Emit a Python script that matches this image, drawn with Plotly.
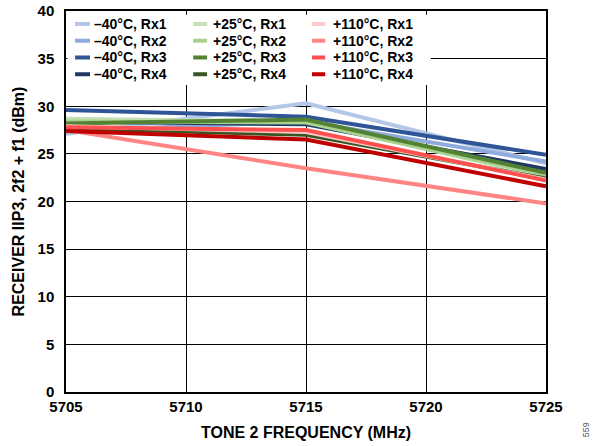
import plotly.graph_objects as go

# ---- data ----
freq = [5705, 5715, 5725]
tick_vals_x = [5705, 5710, 5715, 5720, 5725]
tick_vals_y = [0, 5, 10, 15, 20, 25, 30, 35, 40]

m40_rx1 = [27.1, 30.3, 24.0]
m40_rx2 = [27.4, 28.4, 24.2]
m40_rx3 = [29.6, 28.9, 24.9]
m40_rx4 = [28.4, 28.1, 23.4]

p25_rx1 = [28.7, 28.4, 22.6]
p25_rx2 = [28.4, 28.3, 22.8]
p25_rx3 = [28.2, 28.6, 23.0]
p25_rx4 = [27.7, 27.0, 22.4]

p110_rx1 = [27.9, 27.3, 22.3]
p110_rx2 = [27.5, 23.5, 19.8]
p110_rx3 = [27.8, 27.5, 22.2]
p110_rx4 = [27.4, 26.5, 21.6]

groups = ["m40", "p25", "p110"]
names = {
    "m40": ["–40°C, Rx1", "–40°C, Rx2", "–40°C, Rx3", "–40°C, Rx4"],
    "p25": ["+25°C, Rx1", "+25°C, Rx2", "+25°C, Rx3", "+25°C, Rx4"],
    "p110": ["+110°C, Rx1", "+110°C, Rx2", "+110°C, Rx3", "+110°C, Rx4"],
}
series = {
    "m40": [m40_rx1, m40_rx2, m40_rx3, m40_rx4],
    "p25": [p25_rx1, p25_rx2, p25_rx3, p25_rx4],
    "p110": [p110_rx1, p110_rx2, p110_rx3, p110_rx4],
}
colors = {
    "m40": ["#b4c7e7", "#8faadc", "#2f5597", "#1f3864"],
    "p25": ["#c5e0b4", "#a9d18e", "#548235", "#375623"],
    "p110": ["#ffc9c9", "#ff8585", "#ff5050", "#c00000"],
}

FONT = "Arial, 'Liberation Sans', sans-serif"

# ---- compact legend layout (paper coordinates) ----
leg_rows_y = [0.966, 0.922, 0.878, 0.834]
leg_swatch_x = [(0.019, 0.050), (0.265, 0.294), (0.5125, 0.540)]
leg_text_x = [0.056, 0.304, 0.554]

fig = go.Figure()
for t in groups:
    for r in range(4):
        fig.add_trace(go.Scatter(
            x=freq, y=series[t][r], mode="lines", name=names[t][r],
            line=dict(color=colors[t][r], width=4), showlegend=False,
        ))

shapes = [dict(type="rect", xref="paper", yref="paper", x0=0.003, x1=0.760,
               y0=0.806, y1=0.990, fillcolor="white", line=dict(width=0),
               layer="above")]
annotations = []
for c, t in enumerate(groups):
    for r in range(4):
        shapes.append(dict(type="line", xref="paper", yref="paper",
                           x0=leg_swatch_x[c][0], x1=leg_swatch_x[c][1],
                           y0=leg_rows_y[r], y1=leg_rows_y[r],
                           line=dict(color=colors[t][r], width=4), layer="above"))
        annotations.append(dict(text=names[t][r], xref="paper", yref="paper",
                                x=leg_text_x[c], y=leg_rows_y[r], xanchor="left",
                                yanchor="middle", showarrow=False, borderpad=0,
                                font=dict(size=14, weight="bold", color="black")))
annotations.append(dict(
    text="559", xref="paper", yref="paper", x=1.098, y=-0.125,
    showarrow=False, textangle=-90,
    font=dict(size=9, color="#555555", weight="normal"),
))

fig.update_layout(
    width=593, height=446,
    margin=dict(l=66, r=47, t=11, b=54),
    paper_bgcolor="white", plot_bgcolor="white",
    font=dict(family=FONT, size=15, color="black", weight="bold"),
    showlegend=False,
    xaxis=dict(
        range=[5705, 5725], tickvals=tick_vals_x,
        showgrid=True, gridcolor="black", gridwidth=1,
        showline=True, linecolor="black", linewidth=1.5, mirror=True,
        ticks="", zeroline=False, automargin=False,
        title=dict(text="TONE 2 FREQUENCY (MHz)", standoff=13,
                   font=dict(size=16, weight="bold")),
        tickfont=dict(size=15, weight="bold"),
    ),
    yaxis=dict(
        range=[0, 40], tickvals=tick_vals_y,
        showgrid=True, gridcolor="black", gridwidth=1,
        showline=True, linecolor="black", linewidth=1.5, mirror=True,
        ticks="", zeroline=False, ticklabelstandoff=7, automargin=False,
        title=dict(text="RECEIVER IIP3, 2f2 + f1 (dBm)", standoff=9,
                   font=dict(size=16, weight="bold")),
        tickfont=dict(size=15, weight="bold"),
    ),
    shapes=shapes,
    annotations=annotations,
)

fig.write_html("out.html", config={"displayModeBar": False},
               post_script="document.body.style.margin='0';")
